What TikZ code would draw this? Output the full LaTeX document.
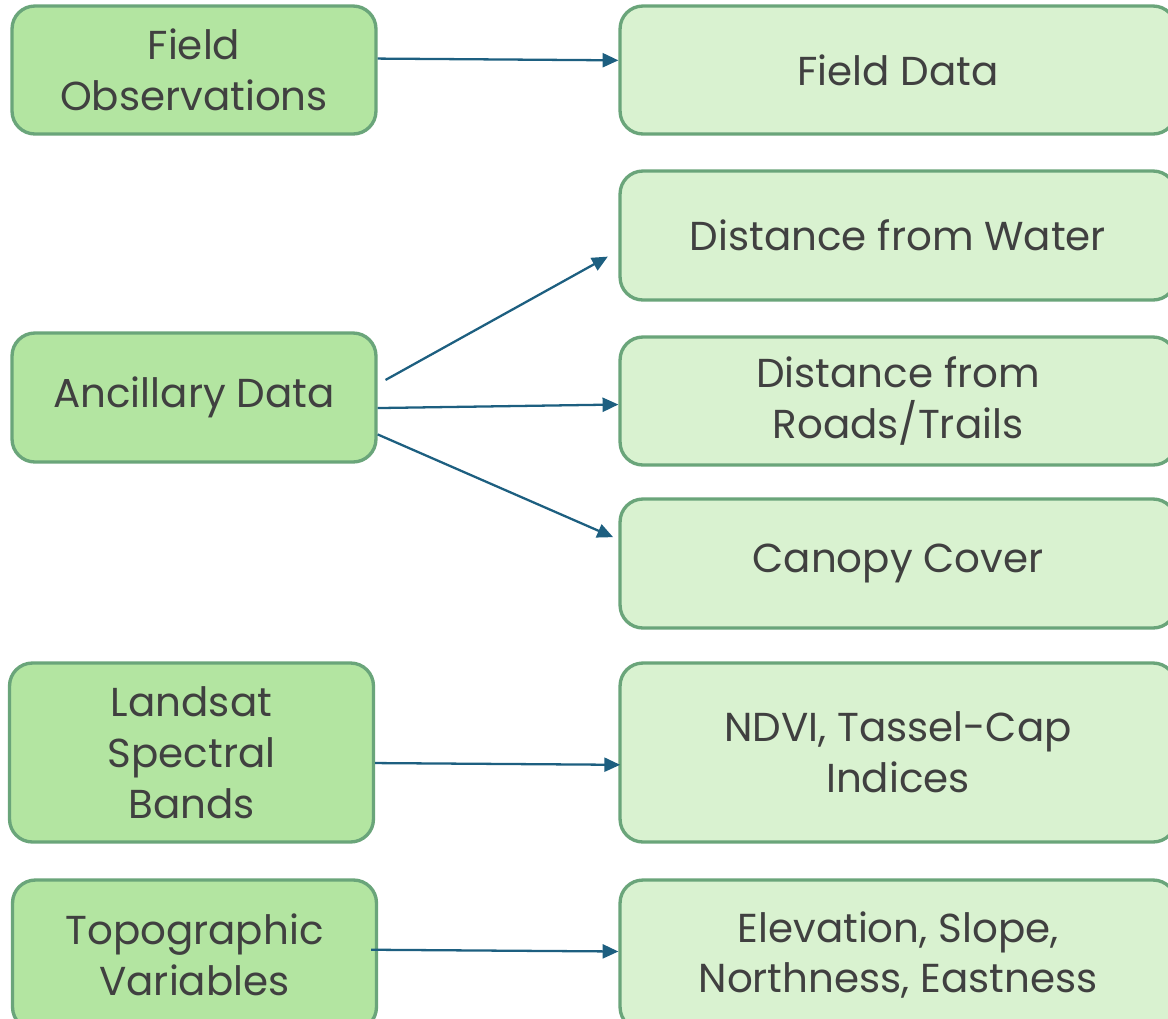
\documentclass[tikz,border=0pt]{standalone}
\usepackage{fontspec}
\setmainfont{Poppins}
\usetikzlibrary{arrows.meta}

\definecolor{boxline}{HTML}{6AA57A}
\definecolor{leftfill}{HTML}{B3E5A1}
\definecolor{rightfill}{HTML}{D9F2D0}
\definecolor{arrowblue}{HTML}{1D5F80}
\definecolor{textgrey}{HTML}{404040}

\tikzset{
  inbox/.style={draw=boxline, line width=1.9pt, fill=leftfill, rounded corners=13pt,
    text=textgrey, align=center, minimum width=7.28cm,
    font=\fontsize{23}{29}\selectfont},
  outbox/.style={draw=boxline, line width=1.9pt, fill=rightfill, rounded corners=13pt,
    text=textgrey, align=center, minimum width=11.12cm,
    font=\fontsize{23}{29}\selectfont},
  link/.style={draw=arrowblue, line width=1.3pt, -{Triangle[length=9pt,width=8pt]}}
}

\begin{document}
\begin{tikzpicture}[x=0.02cm, y=-0.02cm]
\useasboundingbox (0,0) rectangle (1168,1018);
\clip (0,0) rectangle (1168,1018);

% left column
\node[inbox, minimum height=2.56cm] (fobs) at (194,70) {Field\\Observations};
\node[inbox, minimum height=2.58cm] (anc) at (194,397.5) {Ancillary Data};
\node[inbox, minimum height=3.58cm] (lsat) at (191.5,752.5) {Landsat\\Spectral\\Bands};
\node[inbox, minimum height=3.0cm] (topo) at (194.5,955) {Topographic\\Variables};

% right column
\node[outbox, minimum height=2.56cm] (fdata) at (898,70) {Field Data};
\node[outbox, minimum height=2.58cm] (water) at (898,235.5) {Distance from Water};
\node[outbox, minimum height=2.56cm] (roads) at (898,401) {Distance from\\Roads/Trails};
\node[outbox, minimum height=2.58cm] (canopy) at (898,563.5) {Canopy Cover};
\node[outbox, minimum height=3.58cm] (ndvi) at (898,752.5) {NDVI, Tassel-Cap\\Indices};
\node[outbox, minimum height=3.0cm] (elev) at (898,955) {Elevation, Slope,\\Northness, Eastness};

% arrows
\draw[link] ([yshift=6.5pt]fobs.east) -- ([yshift=5.5pt]fdata.west);
\draw[link] ([xshift=4.5pt, yshift=10pt]anc.east) -- ([xshift=-6pt, yshift=-12pt]water.west);
\draw[link] ([yshift=-6pt]anc.east) -- ([yshift=-2pt]roads.west);
\draw[link] ([yshift=-21pt]anc.east) -- ([xshift=-3pt, yshift=15pt]canopy.west);
\draw[link] ([yshift=-6pt]lsat.east) -- ([xshift=1pt, yshift=-7pt]ndvi.west);
\draw[link] ([xshift=-4pt, yshift=3pt]topo.east) -- ([yshift=2pt]elev.west);
\end{tikzpicture}
\end{document}
